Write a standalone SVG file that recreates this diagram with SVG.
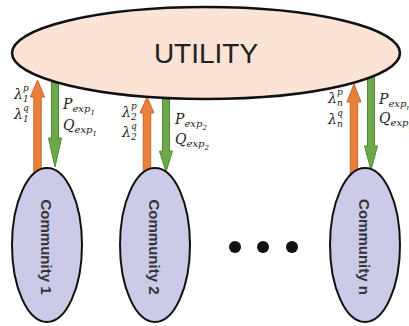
<svg xmlns="http://www.w3.org/2000/svg" width="409" height="326" viewBox="0 0 409 326">
  <style>
    .up { fill: #E8803C; stroke: #C9662A; stroke-width: 1; }
    .down { fill: #6DA84C; stroke: #4F8A33; stroke-width: 1; }
    .utility { fill: #FBE4D5; stroke: #111; stroke-width: 2.6; }
    .community { fill: #CBCAE7; stroke: #111; stroke-width: 2; }
    .title { font-family: "Liberation Sans", Arial, sans-serif; font-size: 28px; fill: #222; }
    .cname { font-family: "Liberation Sans", Arial, sans-serif; font-size: 15px; font-weight: bold; fill: #333; }
    .m { font-family: "DejaVu Serif", "Liberation Serif", serif; font-style: italic; fill: #222; }
    .big { font-size: 14px; }
    .mid { font-size: 10px; }
    .tiny { font-size: 9px; }
    .small { font-size: 7px; }
    .dot { fill: #111; }
  </style>

  <!-- connectors: price signals up, exported power down -->
  <g id="connectors">
    <path class="up" d="M33.8,200 L33.8,97 L30.5,97 L37.5,80 L44.5,97 L41.2,97 L41.2,200 Z"/>
    <path class="down" d="M51.5,60 L51.5,138 L48.5,138 L55,167 L61.5,138 L58.5,138 L58.5,60 Z"/>

    <path class="up" d="M143.3,200 L143.3,113 L140,113 L147,97 L154,113 L150.7,113 L150.7,200 Z"/>
    <path class="down" d="M162.5,60 L162.5,151 L159.5,151 L166,172 L172.5,151 L169.5,151 L169.5,60 Z"/>

    <path class="up" d="M350.3,200 L350.3,102 L347,102 L354,84 L361,102 L357.7,102 L357.7,200 Z"/>
    <path class="down" d="M367.5,60 L367.5,146 L364.5,146 L371,170 L377.5,146 L374.5,146 L374.5,60 Z"/>
  </g>

  <g id="utility">
    <ellipse class="utility" cx="206" cy="53" rx="194" ry="46"/>
    <text class="title" x="206" y="63" text-anchor="middle">UTILITY</text>
  </g>

  <g id="community-1">
    <ellipse class="community" cx="47" cy="245" rx="35" ry="77"/>
    <text class="cname" transform="translate(41 247) rotate(90)" text-anchor="middle">Community  1</text>
  </g>

  <g id="community-2">
    <ellipse class="community" cx="155" cy="245" rx="35" ry="77"/>
    <text class="cname" transform="translate(149 247) rotate(90)" text-anchor="middle">Community  2</text>
  </g>

  <g id="community-n">
    <ellipse class="community" cx="365" cy="245" rx="35" ry="77"/>
    <text class="cname" transform="translate(359 247) rotate(90)" text-anchor="middle">Community  n</text>
  </g>

  <g id="ellipsis">
    <circle class="dot" cx="235" cy="247" r="6"/>
    <circle class="dot" cx="263" cy="247" r="6"/>
    <circle class="dot" cx="292" cy="247" r="6"/>
  </g>

  <!-- labels for community 1 -->
  <g id="labels-1">
    <text class="m big" x="14" y="99">λ</text>
    <text class="m tiny" x="23" y="91">p</text>
    <text class="m tiny" x="23" y="102">1</text>
    <text class="m big" x="14" y="119">λ</text>
    <text class="m tiny" x="23" y="111">q</text>
    <text class="m tiny" x="23" y="122">1</text>
    <text class="m big" x="63" y="109">P<tspan class="mid" dy="3">exp</tspan><tspan class="small" dy="3">1</tspan></text>
    <text class="m big" x="63" y="130">Q<tspan class="mid" dy="3">exp</tspan><tspan class="small" dy="3">1</tspan></text>
  </g>

  <!-- labels for community 2 -->
  <g id="labels-2">
    <text class="m big" x="122" y="117">λ</text>
    <text class="m tiny" x="131" y="109">p</text>
    <text class="m tiny" x="131" y="120">2</text>
    <text class="m big" x="122" y="137">λ</text>
    <text class="m tiny" x="131" y="129">q</text>
    <text class="m tiny" x="131" y="140">2</text>
    <text class="m big" x="175" y="124">P<tspan class="mid" dy="3">exp</tspan><tspan class="small" dy="3">2</tspan></text>
    <text class="m big" x="175" y="144">Q<tspan class="mid" dy="3">exp</tspan><tspan class="small" dy="3">2</tspan></text>
  </g>

  <!-- labels for community n -->
  <g id="labels-n">
    <text class="m big" x="328" y="103">λ</text>
    <text class="m tiny" x="337" y="95">p</text>
    <text class="m tiny" x="337" y="106">n</text>
    <text class="m big" x="328" y="124">λ</text>
    <text class="m tiny" x="337" y="116">q</text>
    <text class="m tiny" x="337" y="127">n</text>
    <text class="m big" x="379" y="104">P<tspan class="mid" dy="3">exp</tspan><tspan class="small" dy="3">n</tspan></text>
    <text class="m big" x="379" y="123">Q<tspan class="mid" dy="3">exp</tspan><tspan class="small" dy="3">n</tspan></text>
  </g>
</svg>
